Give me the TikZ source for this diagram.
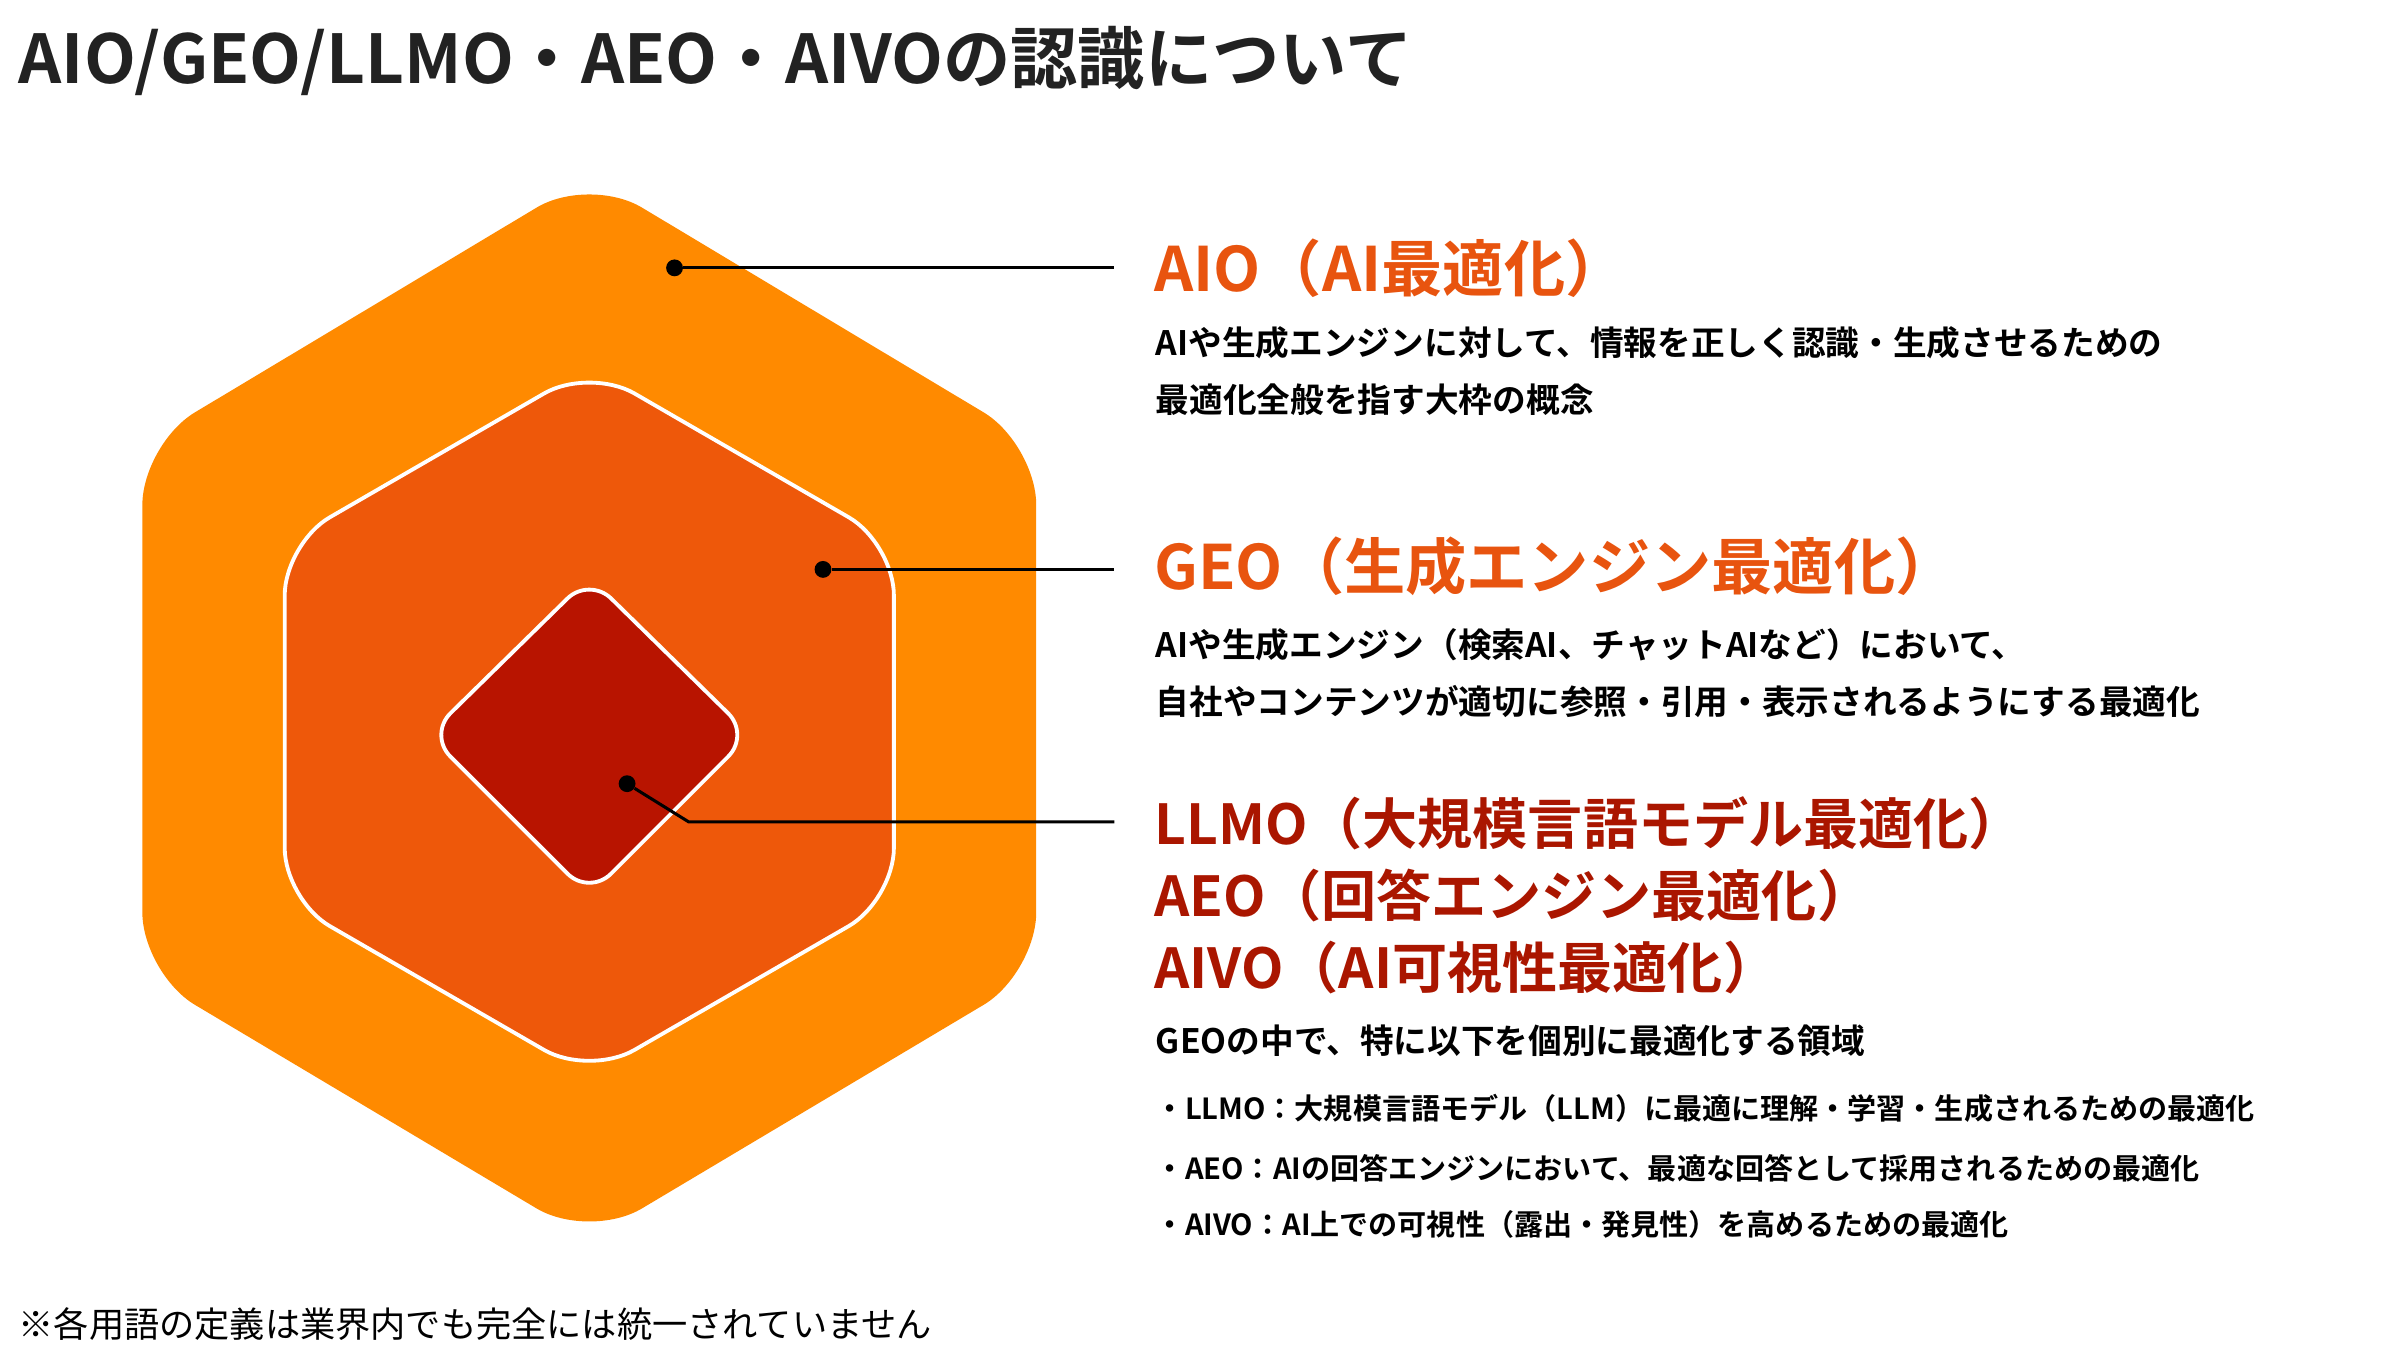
\documentclass[tikz,border=0pt]{standalone}
\usepackage{fontspec}
\setmainfont{Noto Sans CJK JP}
\newfontfamily\jpbold{Noto Sans CJK JP Bold}
\definecolor{aioorange}{RGB}{255,138,0}
\definecolor{geoorange}{RGB}{238,88,10}
\definecolor{llmored}{RGB}{184,20,0}
\definecolor{headaio}{RGB}{232,84,15}
\definecolor{headllmo}{RGB}{170,22,0}
\definecolor{titlegray}{RGB}{34,34,34}
\begin{document}
\begin{tikzpicture}
  [x=1pt,y=-1pt,
   every node/.style={inner sep=0pt,anchor=west,font=\jpbold},
   layer/.style={draw=white,line width=2.5pt,rounded corners=34pt},
   dotmark/.style={fill=black,circle,minimum size=11pt,inner sep=0pt},
   leader/.style={draw=black,line width=2pt},
   heading/.style={font=\jpbold\fontsize{40}{44}\selectfont},
   body/.style={font=\jpbold\fontsize{22}{26}\selectfont},
   bullet/.style={font=\jpbold\fontsize{19}{22}\selectfont}]
  \useasboundingbox (0,0) rectangle (1568,887);
  % layers
  \fill[aioorange,rounded corners=40pt] (385,115) -- (677,290) -- (677,636) -- (385,810) -- (93,636) -- (93,290) -- cycle;
  \path[layer,fill=geoorange] (385,240) -- (584,355) -- (584,588) -- (385,703) -- (186,588) -- (186,355) -- cycle;
  \path[layer,fill=llmored,rounded corners=20pt] (385,377) -- (490,480) -- (385,585) -- (280,480) -- cycle;
  % leaders
  \node[dotmark] (d1) at (435,175) {};
  \node[dotmark] (d2) at (532,372) {};
  \node[dotmark] (d3) at (404,512) {};
  \coordinate (e1) at (728,175);
  \coordinate (e2) at (728,372);
  \coordinate (k3) at (450,537);
  \coordinate (e3) at (728,537);
  \draw[leader] (d1) -- (e1);
  \draw[leader] (d2) -- (e2);
  \draw[leader] (d3) -- (k3) -- (e3);
  % texts
  \node[font=\jpbold\fontsize{44}{48}\selectfont,text=titlegray] (title) at (12,40) {AIO/GEO/LLMO・AEO・AIVOの認識について};
  \node[heading,text=headaio] (haio) at (754,175) {AIO（AI最適化）};
  \node[body] (baio1) at (755,224) {AIや生成エンジンに対して、情報を正しく認識・生成させるための};
  \node[body] (baio2) at (755,261) {最適化全般を指す大枠の概念};
  \node[heading,text=headaio] (hgeo) at (754,370) {GEO（生成エンジン最適化）};
  \node[body] (bgeo1) at (755,421) {AIや生成エンジン（検索AI、チャットAIなど）において、};
  \node[body] (bgeo2) at (755,458) {自社やコンテンツが適切に参照・引用・表示されるようにする最適化};
  \node[heading,text=headllmo,font=\jpbold\fontsize{36}{40}\selectfont] (hllmo) at (754,538) {LLMO（大規模言語モデル最適化）};
  \node[heading,text=headllmo,font=\jpbold\fontsize{36}{40}\selectfont] (haeo) at (754,585) {AEO（回答エンジン最適化）};
  \node[heading,text=headllmo,font=\jpbold\fontsize{36}{40}\selectfont] (haivo) at (754,632) {AIVO（AI可視性最適化）};
  \node[body] (bsub) at (755,680) {GEOの中で、特に以下を個別に最適化する領域};
  \node[bullet] (b1) at (755,724) {・LLMO：大規模言語モデル（LLM）に最適に理解・学習・生成されるための最適化};
  \node[bullet] (b2) at (755,763) {・AEO：AIの回答エンジンにおいて、最適な回答として採用されるための最適化};
  \node[bullet] (b3) at (755,800) {・AIVO：AI上での可視性（露出・発見性）を高めるための最適化};
  \node[font=\fontsize{23}{26}\selectfont] (note) at (12,865) {※各用語の定義は業界内でも完全には統一されていません};
\end{tikzpicture}
\end{document}
